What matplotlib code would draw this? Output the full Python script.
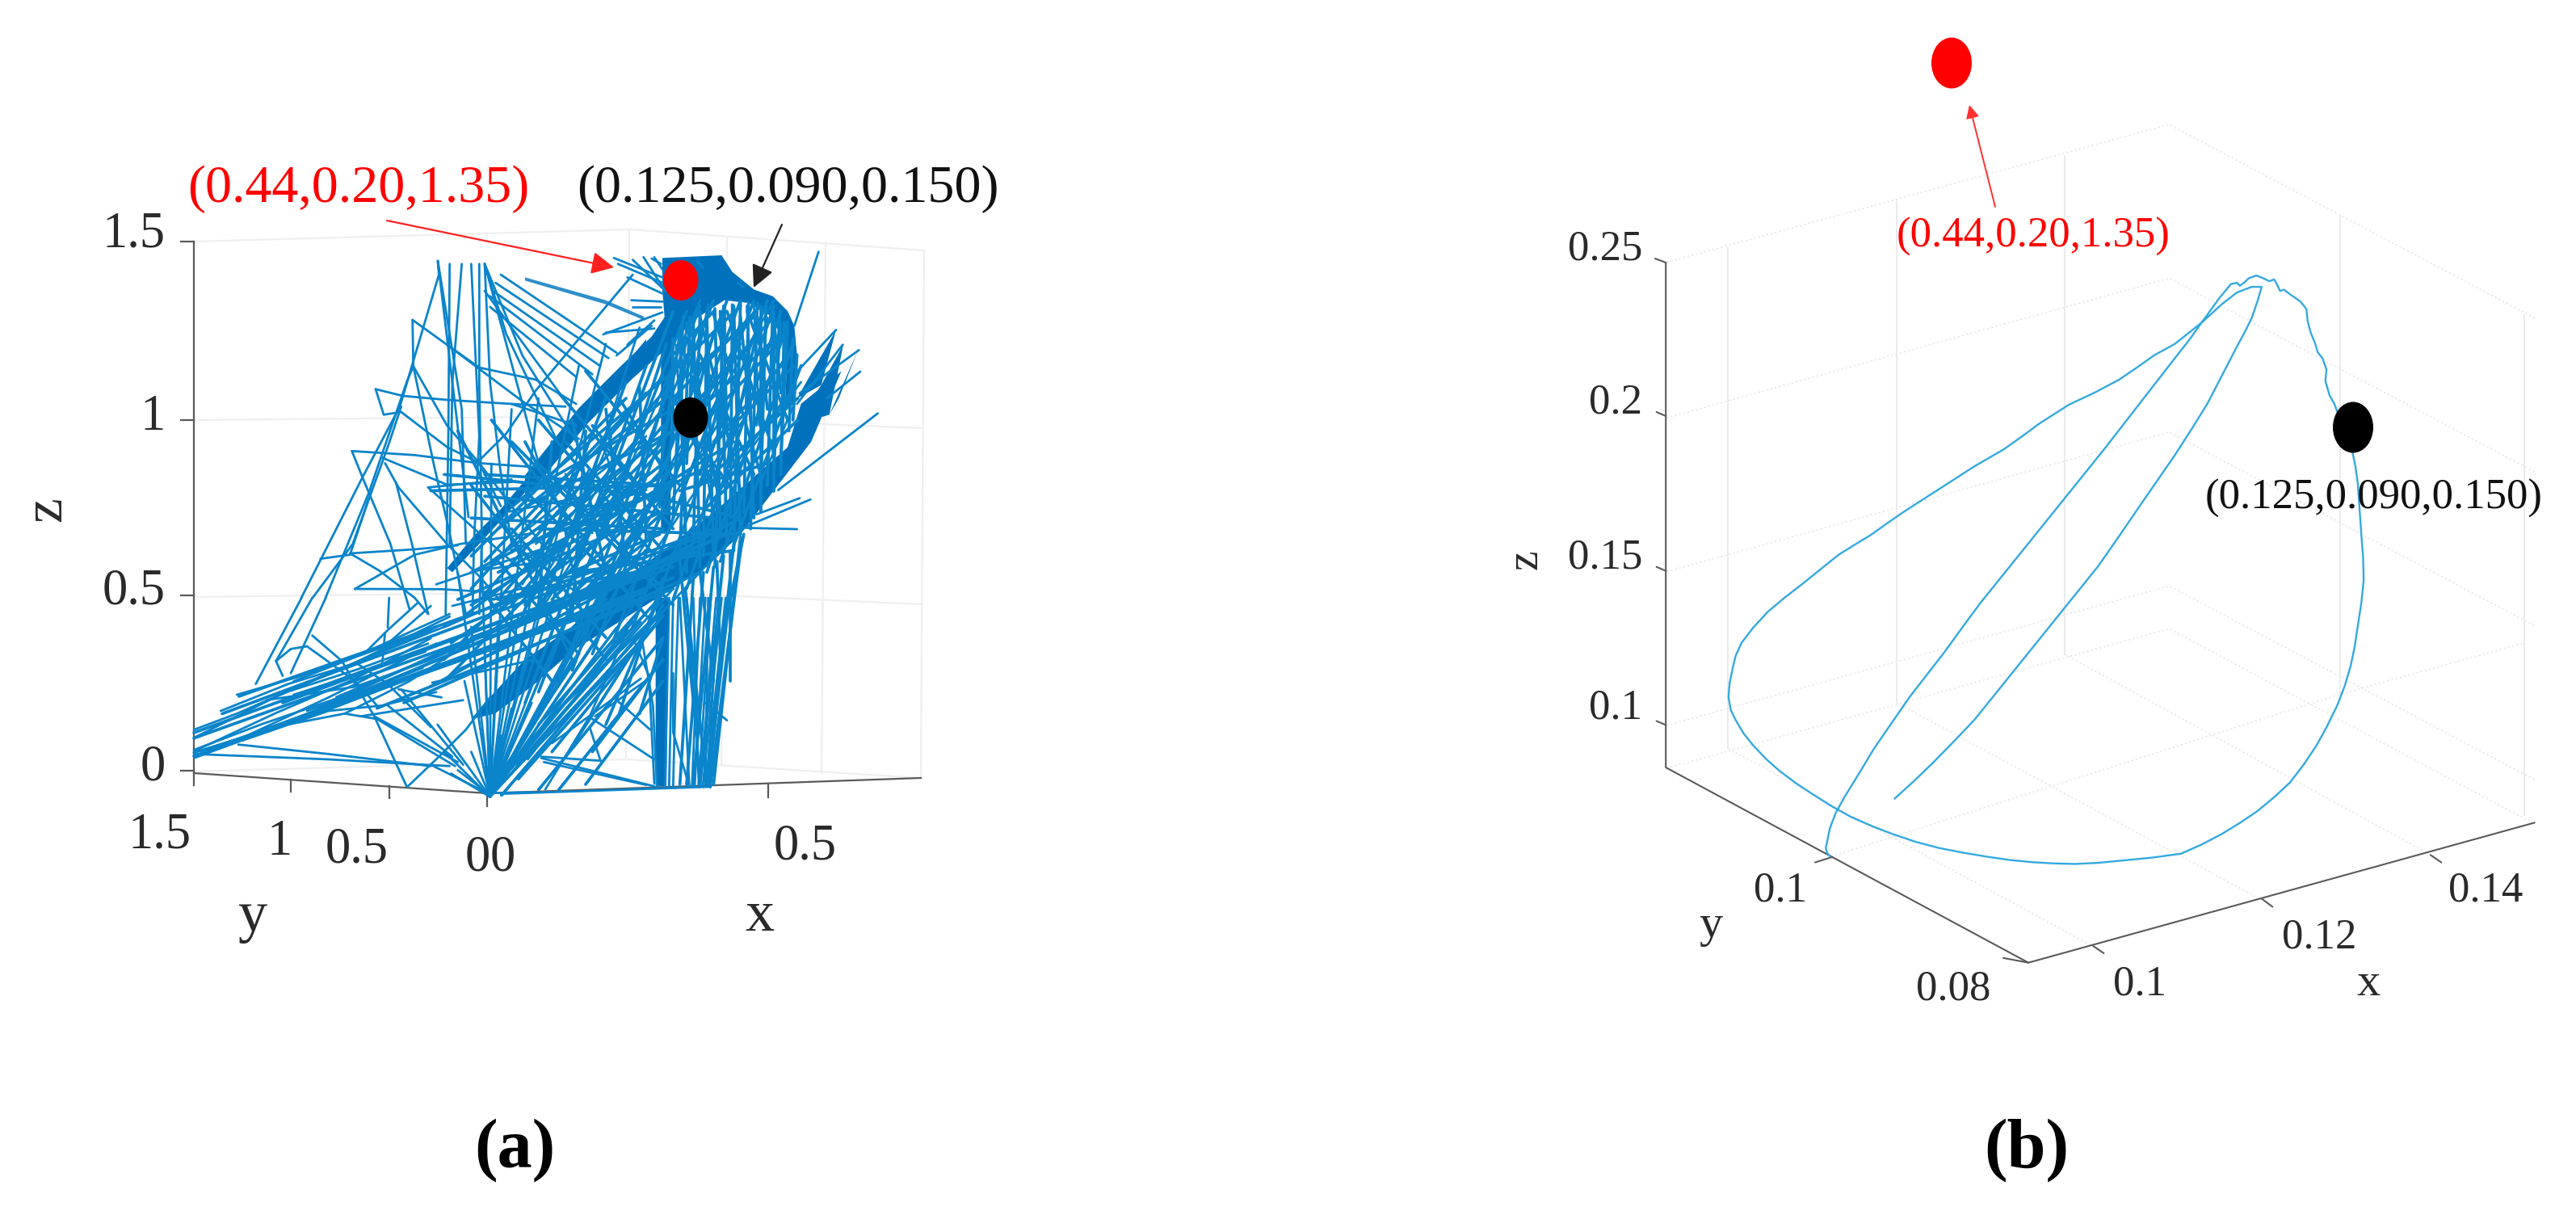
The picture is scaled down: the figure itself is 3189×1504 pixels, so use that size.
import matplotlib
matplotlib.use("Agg")
import matplotlib.pyplot as plt
from matplotlib.patches import Ellipse
import numpy as np

plt.rcParams['font.family'] = ['Liberation Serif', 'DejaVu Serif']

# Every trace is read off the picture, each list in the units of the crop it was read from:
# origin x, origin y, x scale, y scale of that crop
Z1 = (0, 170, 1.2, 1.4857)
Z2 = (1800, 0, 1.125, 1.2)
Z3 = (650, 260, 3, 3)
Z5 = (380, 340, 3, 3)
Z6 = (240, 740, 3, 3)
Z7 = (620, 740, 3, 3)
Z8 = (2050, 140, 1.3696, 1.418)

# ---------------- panel (a) labels
a_z_ticks = ["1.5", "1", "0.5", "0"]
a_y_ticks = ["1.5", "1", "0.5", "0"]
a_x_ticks = ["0", "0.5"]
start_label = "(0.44,0.20,1.35)"
end_label = "(0.125,0.090,0.150)"

# ---------------- panel (a) trajectory pieces
a_dense_cap = [(510,178),(730,168),(770,230),(850,295),(920,320),(975,375),(1000,430),(1012,560),(1000,720),
               (965,730),(975,520),(915,395),(830,345),(740,335),(640,400),(545,490),(520,420),(510,300)]
a_dense_wedge = [(0,250),(300,335),(440,395),(445,410),(300,350),(0,262)]
a_dense_vert_top = [(505,480),(545,480),(540,1200),(505,1200)]
a_dense_upper = [(520,395),(565,480),(400,625),(230,795),(0,1075),(0,985),(200,735),(350,585),(470,470)]
a_dense_spike1 = [(1010,700),(1155,445),(1100,650)]
a_dense_spike2 = [(1100,650),(1182,500),(1130,760),(1000,800)]
a_dense_spike3 = [(1130,760),(1235,525),(1165,700)]

a_dense_upper2 = [(1260,240),(1260,340),(1100,460),(900,700),(750,880),(640,1000),(540,1105),(520,1090),
                  (620,970),(720,870),(880,680),(1060,480)]
a_dense_lower = [(1190,490),(1170,570),(1060,690),(985,760),(900,840),(844,906),(780,960),(720,1040),(700,1070),
                 (735,1060),(790,1010),(850,945),(960,860),(1050,790),(1100,730),(1205,560),(1250,430)]
a_dense_vert_low = [(575,0),(625,0),(615,700),(575,700)]

z5_paths = [
    [(-21,1200),(205,755),(345,490),(490,0),(486,-51)],
    [(69,1200),(230,810),(370,400),(395,340)],
    [(21,1200),(170,1000),(300,640),(350,490)],
    [(392,168),(520,260),(640,345),(850,390),(1000,480)],
    [(392,168),(395,340),(470,700),(530,960),(590,1260)],
    [(255,425),(355,450),(520,465),(760,480),(960,490)],
    [(255,425),(285,520),(350,510),(520,640),(640,700),(760,860),(880,1010)],
    [(167,655),(400,670),(640,700),(850,715)],
    [(167,655),(205,750),(310,1000),(380,1240)],
    [(290,700),(340,790),(520,1000),(640,1120),(760,1260)],
    [(330,770),(390,1000),(450,1260)],
    [(178,1167),(500,1168),(700,1180)],
    [(178,1167),(400,1040),(570,1000),(840,960)],
    [(160,1035),(400,1020),(560,1005)],
    [(50,1055),(160,1040),(230,830)],
    [(160,1035),(270,1100),(400,1200),(450,1260)],
    [(530,-40),(525,600),(515,1260)],
    [(575,-40),(540,400),(530,1000)],
    [(610,-40),(640,600),(620,1000),(615,1260)],
    [(640,-40),(640,400),(650,1000),(640,1260)],
    [(660,-40),(680,400),(720,740),(760,1000)],
    [(660,-40),(860,700)],
    [(660,-40),(740,220),(930,620)],
    [(660,-40),(800,300),(1000,620)],
    [(1210,0),(1000,250),(850,430),(740,590),(640,690)],
    [(720,0),(1150,290)], [(700,30),(1120,310)], [(690,60),(1090,340)], [(680,80),(1060,370)], [(680,120),(1000,380)],
    [(660,60),(960,470)],
    [(395,340),(520,560),(640,700),(720,860)],
    [(486,-51),(600,900)],
    [(486,-51),(575,500),(590,1000)],
    [(280,680),(520,780),(760,770)],
    [(450,790),(760,760)],
    [(450,790),(640,960),(800,1100)],
    [(750,880),(1050,820)],
    [(520,260),(800,470),(1010,610)],
    [(760,480),(1000,560)],
    [(800,1260),(1100,760)], [(860,1260),(1180,760)], [(900,1150),(1130,600)], [(800,1150),(1050,720)],
    [(960,1260),(1260,900)], [(1040,1260),(1260,1020)], [(850,1000),(1260,650)], [(800,960),(1260,600)],
    [(960,960),(1020,1260)], [(960,740),(1060,960)], [(1100,640),(1180,860)], [(1020,880),(1260,800)],
    [(780,1010),(1000,1180)], [(620,1100),(1000,1050)], [(540,1230),(1260,1050)], [(480,1150),(900,1010)],
]

z6_paths = [
    [(230,320),(400,0)], [(360,280),(490,0)], [(305,235),(440,0)],
    [(305,235),(360,190),(420,180)], [(305,235),(330,290)],
    [(440,140),(550,235),(670,440),(790,700)],
    [(420,180),(600,310),(680,400)],
    [(795,700),(910,590),(1010,490),(1100,370)],
    [(670,440),(980,610)], [(720,400),(960,590)], [(770,340),(1000,620)],
    [(0,580),(500,600),(950,625)], [(165,545),(500,580),(880,625)],
    [(0,575),(300,480),(560,430),(800,310),(1050,150)],
    [(0,575),(180,520),(500,370),(900,170)],
    [(0,520),(300,370),(600,240),(950,70)],
    [(0,490),(160,430),(500,280),(950,100)],
    [(100,420),(350,320),(580,250),(900,110)],
    [(160,360),(400,290),(620,210),(950,60)],
    [(0,570),(300,430),(600,300),(880,150)],
    [(0,565),(250,470),(600,350),(960,180)],
    [(180,530),(500,420),(700,400),(900,350)],
    [(370,310),(600,220),(880,120)], [(360,345),(610,265),(870,170)], [(370,360),(620,280),(860,200)],
    [(270,380),(600,330),(880,230)], [(420,420),(620,350),(850,260)],
    [(885,315),(1260,230)], [(620,440),(1000,380)],
    [(560,430),(680,450),(970,625)],
    [(560,235),(640,200),(720,120),(830,20)],
    [(640,200),(720,170),(880,30)],
    [(720,110),(725,0)], [(700,240),(710,130)],
    [(600,240),(720,320),(880,480)], [(760,340),(920,370)],
    [(880,620),(1090,725)], [(980,640),(1090,725)],
    [(1090,725),(1260,722)],
]

# fan out of the origin, crop Z1 targets
fan_origin = (728, 1213)
fan_targets = [(680,800),(715,760),(730,600),(760,500),(800,480),(860,420),(900,380),(950,350),(1000,320),(1040,300),
               (960,680),(1000,600),(1030,560),(1080,500),(1100,380),(1120,320),(1150,300),(1180,380),(1190,450),
               (1100,720),(1000,830),(900,900),(850,960),(800,1000),(760,1050),(690,1000),(650,1080),(670,1170),
               (700,1130),(745,1100),(720,950),(740,900),(770,880),(810,840),(700,900),(660,1130),(760,1120),(790,1040)]

# long lines across the body, crop Z1: x1, y1, x2, y2
body_lines = [
    (288,1138,980,820),(288,1105,1000,790),(288,1095,1020,765),(330,1060,1050,730),(355,1028,1060,720),
    (290,1140,960,835),(300,1130,940,850),(400,1090,1040,760),(450,1070,1000,810),(420,1040,1030,760),
    (500,1030,1060,740),(540,1020,1080,730),(560,1050,1000,830),(600,1040,1040,800),(640,1010,1100,700),
    (1000,320,780,1040),(1020,320,800,1020),(1040,310,830,1000),(1060,300,850,980),(1080,300,880,950),
    (1100,300,910,930),(1120,300,940,900),(1140,300,970,870),(1150,310,1000,850),(1160,320,1020,830),
    (1170,340,1050,800),(1180,370,1070,780),(1190,420,1090,750),(1010,360,1020,800),(1030,340,1040,790),
    (1050,330,1060,770),(1070,320,1080,750),(1090,310,1100,730),(1110,310,1120,700),(1130,310,1130,690),
    (1150,320,1150,650),(1165,340,1160,620),(990,380,900,720),(960,420,850,800),(930,450,800,880),
    (900,480,770,900),(1000,420,930,720),(1020,400,980,680),(1060,360,1000,640),(1100,340,1040,620),
    (1130,330,1080,600),(990,450,1060,640),(1040,400,1120,620),(1000,500,1090,650),(1010,650,1140,600),
    (760,760,1000,640),(740,800,1060,600),(700,860,1090,560),(780,680,1030,520),(800,640,1000,500),
    (760,680,1010,420),(740,720,1000,470),(730,780,1000,540),(700,800,990,620),(680,850,1000,680),
    (660,900,980,730),(640,960,960,780),(760,560,1000,860),(730,520,960,880),(800,520,980,780),
    (830,470,1000,720),(870,430,1010,640),(700,640,900,960),(680,540,850,960),(900,640,1100,700),
    (720,660,1060,700),(660,620,980,660),(640,650,1000,640),(800,720,1100,730),(850,800,1090,760),
    # arch down to the lower band
    (1015,330,1000,700),(1025,330,1010,760),(1040,320,1030,740),(1050,320,1045,770),(1062,315,1070,720),
    (1075,310,1062,790),(1088,308,1085,700),(1100,305,1090,760),(1112,305,1105,690),(1125,305,1115,720),
    (1138,310,1130,660),(1148,315,1140,640),(1158,325,1150,610),(1170,345,1160,590),(1178,370,1172,540),
    (1184,400,1178,520),(1020,340,1070,680),(1040,330,1100,650),(1060,325,1130,620),(1080,320,1150,580),
    (1110,320,1170,520),(1010,360,980,620),(1000,370,1000,560),(1030,360,1020,600),(1050,350,1055,560),
    (1075,340,1080,540),(1100,330,1115,520),(1125,330,1140,500),(1150,340,1160,470),
    # from the upper band up to the arch
    (1000,430,1100,310),(1000,480,1130,310),(1010,520,1150,330),(1020,560,1170,360),(1030,600,1180,420),
    (1040,640,1185,480),(1050,680,1185,520),(1000,400,1060,320),(1020,440,1120,330),(1040,500,1160,360),
    (1060,560,1175,400),(1080,620,1180,460),
    # lattice left of the vertical bundle
    (700,830,985,440),(720,840,985,470),(740,850,985,500),(760,860,985,530),(780,860,985,570),(800,860,985,610),
    (820,850,985,650),(850,840,985,690),(880,820,985,720),(720,780,960,470),(700,770,930,480),
    (800,600,985,830),(780,650,950,860),(840,560,985,760),(880,530,985,700),(920,480,985,610),(760,720,900,920),
    (740,780,860,950),(720,840,820,1000),(780,560,840,700),(850,520,900,800),(900,500,930,780),(950,460,960,740),
    (820,560,800,860),(870,540,850,880),(690,880,985,600),(670,930,985,660),(660,960,985,560),(660,1000,960,620),
    (700,700,985,720),(720,620,985,640),(730,850,985,790),(700,920,960,800),(680,980,900,850),
    # below the lower band
    (800,1200,985,920),(830,1200,985,960),(870,1190,985,1000),(820,1130,985,880),(850,1120,985,860),
    (900,1080,985,830),(920,1060,985,810),(950,1060,985,920),(770,1180,985,880),(780,1120,985,840),
    (745,1210,960,900),(760,1160,940,890),(880,1130,985,960),(800,1080,950,870),(840,1040,975,880),
    # right lower bundle, upper part
    (1100,735,1060,1190),(1090,750,1050,1190),(1075,770,1040,1190),(1060,790,1030,1190),(1045,800,1020,1190),
    (1030,810,1010,1190),(1105,730,1085,850),(1018,830,1050,1190),(1100,760,1055,1195),(1085,760,1085,1000),
    (1010,780,1035,1100),(1040,800,1060,1000),(1065,780,1070,950),
]

# right lower bundle and right vertical, crop Z7
z7_paths = [
    [(165,712),(330,440),(470,120)], [(370,605),(330,480)], [(150,590),(370,605)],
    [(150,595),(570,700)], [(160,610),(540,695)], [(340,450),(570,600)], [(840,455),(760,390)],
    [(430,380),(555,490)], [(350,440),(550,300)], [(190,540),(520,300)], [(100,600),(470,120)],
    [(0,680),(380,120)], [(0,650),(280,230)], [(30,640),(430,110)], [(60,620),(520,90)], [(80,610),(560,120)],
    [(500,170),(550,290),(570,690)], [(520,130),(565,400),(580,700)],
    [(640,280),(640,500),(700,700)], [(660,0),(650,300),(640,700)],
    [(850,0),(770,700)], [(835,0),(760,700)], [(820,0),(750,700)], [(800,0),(740,700)], [(780,0),(735,700)],
    [(760,0),(720,700)], [(740,0),(710,700)], [(715,0),(735,700)], [(690,0),(740,690)], [(665,0),(700,700)],
    [(640,0),(625,700)], [(625,0),(610,700)], [(810,0),(765,690)], [(845,0),(772,700)], [(770,0),(760,690)],
    [(0,728),(770,702)],
]

# spikes at the top and right of the mass, crop Z3
z3_paths = [
    [(1000,430),(1090,155)], [(1010,600),(1155,445)], [(1010,720),(1180,500)], [(1020,680),(1240,520)],
    [(1120,700),(1245,600)], [(940,1040),(1310,755)], [(860,1130),(1020,1070)], [(820,1175),(1060,1075)],
    [(810,1180),(1010,1185)],
    [(510,250),(330,178)], [(510,290),(400,185)], [(520,300),(440,175)], [(510,220),(480,175)],
    [(510,340),(395,335)], [(510,380),(290,462)], [(470,430),(340,540)], [(510,310),(380,250)],
    [(510,270),(345,200)], [(505,200),(470,180)], [(505,360),(400,360)], [(480,410),(380,500)], [(480,440),(300,455)],
    [(640,190),(660,215)], [(790,270),(810,285)],
    [(1000,720),(880,1000)], [(900,400),(860,800)], [(800,400),(790,800)], [(740,350),(740,800)],
    [(680,350),(620,660)], [(850,350),(870,800)], [(950,420),(920,900)], [(600,420),(560,1000)],
    [(640,450),(540,700)], [(560,500),(600,1150)], [(660,860),(700,1150)], [(760,830),(740,1150)],
]

# ---------------- panel (b) trajectory, crop Z8
b_x = [405,438,470,505,540,575,610,645,680,715,750,785,820,850,880,908,935,960,985,998,1010,1020,1027,
       1010,985,960,925,880,845,815,785,745,700,650,620,590,565,540,510,480,450,420,392,365,338,310,280,250,220,190,165,
       145,135,130,125,123,127,135,148,165,187,210,237,265,297,330,365,400,440,480,520,560,600,640,675,710,750,790,840,
       890,925,960,990,1020,1048,1075,1098,1120,1138,1155,1168,1178,1185,1190,1196,1200,1199,1196,1193,1190,1186,1180,
       1165,1150,1142,1135,1137,1130,1122,1118,1110,1105,1103,1100,1092,1085,1075,1065,1058,1055,1050,1048,1040,1030,
       1018,1005,998,990,985,975,955,925,905,880,850,820,790,760,725,690,655,620,585,550,520,490,460,430,400,370,345,320,
       305,295,288,290,295]
b_y = [1203,1172,1140,1103,1065,1020,975,930,885,840,795,743,690,645,600,555,510,460,410,385,360,330,305,
       305,315,335,368,405,425,447,468,490,512,545,568,590,605,620,640,660,680,700,720,740,757,775,800,825,849,875,903,
       930,953,975,1000,1025,1048,1065,1088,1110,1134,1155,1176,1195,1216,1235,1251,1265,1279,1290,1298,1305,1311,1315,
       1317,1318,1316,1312,1307,1300,1284,1265,1246,1225,1201,1175,1144,1110,1076,1040,1005,970,935,900,860,820,780,740,
       695,650,620,590,550,510,495,470,450,430,420,405,385,365,345,340,330,325,318,310,312,305,295,292,295,290,285,290,
       297,303,298,300,325,368,397,430,470,510,550,590,635,680,725,770,815,860,902,945,985,1025,1070,1115,1158,1200,
       1228,1255,1290,1298,1305]
b_z_ticks = ["0.25", "0.2", "0.15", "0.1"]
b_y_ticks = ["0.1", "0.08"]
b_x_ticks = ["0.1", "0.12", "0.14"]


def to_px(frame, pts):
    x0, y0, sx, sy = frame
    a = np.asarray(pts, dtype=float)
    return x0 + a[:, 0] / sx, y0 + a[:, 1] / sy


fig = plt.figure(figsize=(31.89, 15.04), dpi=100, facecolor='white')
ax = fig.add_axes([0, 0, 1, 1])
ax.set_xlim(0, 3189)
ax.set_ylim(1504, 0)
ax.axis('off')

GRID = '#efefef'
AXC = '#5a5a5a'
THIN = '#0A84CA'
DENSE = '#0072BD'
BCURVE = '#33A9E0'
TXT = '#2a2a2a'


def line(frame, pts, **kw):
    x, y = to_px(frame, pts)
    ax.plot(x, y, solid_capstyle='round', **kw)


# ---- panel (a) box
for pts in ([(240,299),(779,284),(1144,310)], [(240,520),(779,515),(1142,530)], [(240,739),(779,732),(1142,748)],
            [(240,955),(775,940),(1140,963)],
            [(779,284),(775,940)], [(900,295),(893,947)], [(1022,303),(1017,957)], [(1144,310),(1140,963)]):
    x, y = zip(*pts)
    ax.plot(x, y, color=GRID, lw=1.6, zorder=1)
for pts in ([(240,299),(240,972)], [(240,957),(603,982),(1140,963)]):
    x, y = zip(*pts)
    ax.plot(x, y, color=AXC, lw=1.6, zorder=2)
for x1, y1, x2, y2 in [(224,299,240,299),(224,520,240,520),(224,737,240,737),(224,954,240,954),
                       (360,965,360,980),(482,973,482,988),(603,983,603,998),(951,970,951,987)]:
    ax.plot([x1, x2], [y1, y2], color=AXC, lw=1.6, zorder=2)

# ---- panel (a) trajectory
lw_thin = 2.0
for fr, poly in [(Z3, a_dense_cap), (Z3, a_dense_vert_top), (Z3, a_dense_upper), (Z3, a_dense_spike1),
                 (Z3, a_dense_spike2), (Z3, a_dense_spike3), (Z5, a_dense_upper2), (Z1, a_dense_lower),
                 (Z7, a_dense_vert_low)]:
    x, y = to_px(fr, poly)
    ax.fill(x, y, color=DENSE, lw=0, zorder=3)
x, y = to_px(Z3, a_dense_wedge)
ax.fill(x, y, color='#2E8FCC', lw=0, zorder=3)
for fr, paths in [(Z5, z5_paths), (Z6, z6_paths), (Z7, z7_paths), (Z3, z3_paths)]:
    for p in paths:
        line(fr, p, color=THIN, lw=lw_thin, zorder=3)
for t in fan_targets:
    line(Z1, [fan_origin, t], color=THIN, lw=lw_thin, zorder=3)
for x1, y1, x2, y2 in body_lines:
    line(Z1, [(x1, y1), (x2, y2)], color=THIN, lw=2.7, zorder=3)

# ---- panel (a) points and labels
ax.add_patch(Ellipse((843, 347), 43, 50, color='#ff0000', lw=0, zorder=5))
ax.add_patch(Ellipse((855, 517), 43, 50, color='black', lw=0, zorder=5))
ax.annotate('', xy=(760, 331), xytext=(479, 273), zorder=6,
            arrowprops=dict(arrowstyle='-|>', color='#ff2020', lw=1.6, mutation_scale=42, shrinkA=0, shrinkB=0))
ax.annotate('', xy=(933, 356), xytext=(968, 278), zorder=6,
            arrowprops=dict(arrowstyle='-|>', color='#222222', lw=1.6, mutation_scale=42, shrinkA=0, shrinkB=0))
ax.text(444, 234, start_label, color='#ff0000', fontsize=47.5, ha='center', va='center')
ax.text(975, 234, end_label, color='#111111', fontsize=47.5, ha='center', va='center')
for s, (x, y) in zip(a_z_ticks, [(205,291),(205,517),(205,732),(205,951)]):
    ax.text(x, y, s, color=TXT, fontsize=45, ha='right', va='center')
for s, (x, y) in zip(a_y_ticks, [(198,1035),(346,1043),(442,1052),(591,1062)]):
    ax.text(x, y, s, color=TXT, fontsize=45, ha='center', va='center')
for s, (x, y) in zip(a_x_ticks, [(622,1062),(997,1048)]):
    ax.text(x, y, s, color=TXT, fontsize=45, ha='center', va='center')
ax.text(58, 631, 'z', color=TXT, fontsize=50, rotation=90, ha='center', va='center')
ax.text(312, 1135, 'y', color=TXT, fontsize=52, ha='center', va='center')
ax.text(940, 1135, 'x', color=TXT, fontsize=52, ha='center', va='center')

# ---- panel (b) box, crop Z8
grid_dotted = [
    [(18,262),(870,20),(1490,360)], [(18,535),(870,290),(1490,630)], [(18,805),(870,560),(1490,900)],
    [(18,1075),(870,830),(1490,1170)], [(18,1150),(870,905),(1490,1248)],
    [(122,1115),(740,1462)], [(408,1035),(1025,1380)], [(693,950),(1310,1300)],
    [(297,1305),(1160,1020),(1472,930)],
]
grid_solid = [[(122,235),(122,1115)], [(408,155),(408,1035)], [(693,75),(693,950)],
              [(1160,180),(1160,1020)], [(1472,355),(1472,1232)]]
for p in grid_dotted:
    line(Z8, p, color='#e6e6e6', lw=1.1, ls=(0, (1.5, 2)), zorder=1)
for p in grid_solid:
    line(Z8, p, color='#ebebeb', lw=1.4, zorder=1)
for p in ([(295,390),(295,1140),(800,1430),(1505,1222)],):
    line(Z2, p, color=AXC, lw=1.5, zorder=2)
for p in ([(295,390),(280,384)], [(295,618),(282,612)], [(295,848),(282,842)], [(295,1077),(282,1071)],
          [(527,1273),(503,1281)], [(800,1430),(765,1423)], [(890,1405),(905,1416)], [(1125,1335),(1140,1347)],
          [(1360,1270),(1375,1281)]):
    line(Z2, p, color=AXC, lw=1.5, zorder=2)

# ---- panel (b) trajectory and marks
x, y = to_px(Z8, list(zip(b_x, b_y)))
ax.plot(x, y, color=BCURVE, lw=1.7, zorder=3)
ax.add_patch(Ellipse((2416, 78), 50, 63, color='#ff0000', lw=0, zorder=5))
ax.add_patch(Ellipse((2913, 529), 50, 63, color='black', lw=0, zorder=5))
ax.annotate('', xy=(2438, 130), xytext=(2470, 256), zorder=6,
            arrowprops=dict(arrowstyle='-|>', color='#ff3030', lw=1.4, mutation_scale=24, shrinkA=0, shrinkB=0))
ax.text(2517, 293, start_label, color='#ff0000', fontsize=38, ha='center', va='center', zorder=6)
ax.text(2939, 617, end_label, color='#111111', fontsize=38, ha='center', va='center', zorder=6)
for s, y_ in zip(b_z_ticks, [308, 498, 690, 877]):
    ax.text(2033, y_, s, color=TXT, fontsize=38, ha='right', va='center')
for s, (x_, y_) in zip(b_y_ticks, [(2204,1102),(2418,1225)]):
    ax.text(x_, y_, s, color=TXT, fontsize=38, ha='center', va='center')
for s, (x_, y_) in zip(b_x_ticks, [(2649,1218),(2871,1160),(3077,1102)]):
    ax.text(x_, y_, s, color=TXT, fontsize=38, ha='center', va='center')
ax.text(1889, 693, 'z', color=TXT, fontsize=40, rotation=90, ha='center', va='center')
ax.text(2118, 1146, 'y', color=TXT, fontsize=42, ha='center', va='center')
ax.text(2932, 1218, 'x', color=TXT, fontsize=42, ha='center', va='center')

# ---- panel captions
ax.text(637, 1424, '(a)', color='black', fontsize=62, fontweight='bold', ha='center', va='center')
ax.text(2509, 1424, '(b)', color='black', fontsize=62, fontweight='bold', ha='center', va='center')

fig.savefig('out.png', dpi=100, facecolor='white')
